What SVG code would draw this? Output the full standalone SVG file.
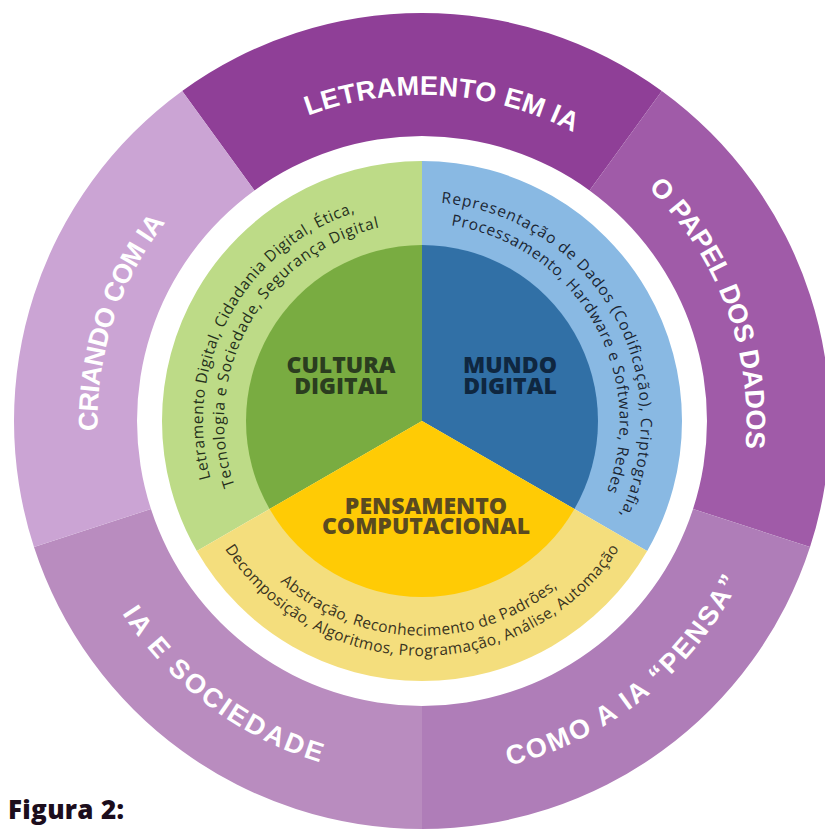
<svg xmlns="http://www.w3.org/2000/svg" width="825" height="831" viewBox="0 0 825 831">
<style>
.outer{font-family:"Liberation Sans",Arial,sans-serif;font-weight:700;font-size:27px;fill:#ffffff}
.small{font-family:"Open Sans","Noto Sans",sans-serif;font-size:15.5px;font-weight:400}
.center{font-family:"Open Sans","Noto Sans",sans-serif;font-weight:800;font-size:23px;text-anchor:middle}
.cap{font-family:"Open Sans","Noto Sans",sans-serif;font-weight:800;font-size:26px;fill:#1c0d1c;letter-spacing:0.3px}
</style>
<defs>
<path id="pLet" d="M96.64,400.53 A326,326 0 0 1 747.36,441.47"/>
<path id="pPap" d="M307.83,115.65 A326,326 0 0 1 536.17,726.35"/>
<path id="pCri" d="M321.26,731.04 A326,326 0 0 1 522.74,110.96"/>
<path id="pCom" d="M143.39,644.21 A357,357 0 0 0 700.61,197.79"/>
<path id="pSoc" d="M136.89,206.15 A357,357 0 0 0 707.11,635.85"/>
<path id="pG1" d="M317.50,613.46 A219,219 0 0 1 526.50,228.54"/>
<path id="pG2" d="M324.92,594.71 A199,199 0 0 1 519.08,247.29"/>
<path id="pB1" d="M313.33,230.86 A219,219 0 0 1 530.67,611.14"/>
<path id="pB2" d="M321.81,250.22 A198,198 0 0 1 522.19,591.78"/>
<path id="pY1" d="M207.04,416.87 A215,215 0 0 0 636.96,425.13"/>
<path id="pY2" d="M187,421 A235,235 0 0 0 657,421"/>
</defs>
<rect width="825" height="831" fill="#ffffff"/>

<g id="letramento-em-ia">
<path d="M182.18,90.92 A408,408 0 0 1 661.82,90.92 L589.52,190.43 A285,285 0 0 0 254.48,190.43 Z" fill="#8f3f97"/>
<text class="outer"><textPath href="#pLet" startOffset="50%" text-anchor="middle" textLength="274" lengthAdjust="spacing">LETRAMENTO EM IA</textPath></text>
</g>
<g id="o-papel-dos-dados">
<path d="M661.82,90.92 A408,408 0 0 1 810.03,547.08 L693.05,509.07 A285,285 0 0 0 589.52,190.43 Z" fill="#a05ba8"/>
<text class="outer"><textPath href="#pPap" startOffset="50%" text-anchor="middle" textLength="287" lengthAdjust="spacing">O PAPEL DOS DADOS</textPath></text>
</g>
<g id="como-a-ia-pensa">
<path d="M810.03,547.08 A408,408 0 0 1 422,829 L422,706 A285,285 0 0 0 693.05,509.07 Z" fill="#af7db8"/>
<text class="outer"><textPath href="#pCom" startOffset="50%" text-anchor="middle" textLength="305" lengthAdjust="spacing">COMO A IA “PENSA”</textPath></text>
</g>
<g id="ia-e-sociedade">
<path d="M422,829 A408,408 0 0 1 33.97,547.08 L150.95,509.07 A285,285 0 0 0 422,706 Z" fill="#b98cbf"/>
<text class="outer"><textPath href="#pSoc" startOffset="50%" text-anchor="middle" textLength="253" lengthAdjust="spacing">IA E SOCIEDADE</textPath></text>
</g>
<g id="criando-com-ia">
<path d="M33.97,547.08 A408,408 0 0 1 182.18,90.92 L254.48,190.43 A285,285 0 0 0 150.95,509.07 Z" fill="#cba4d4"/>
<text class="outer"><textPath href="#pCri" startOffset="50%" text-anchor="middle" textLength="224" lengthAdjust="spacing">CRIANDO COM IA</textPath></text>
</g>

<g id="cultura-digital">
<path d="M422,421 L196.83,551 A260,260 0 0 1 422,161 Z" fill="#bddb87"/>
<path d="M422,421 L269.58,509 A176,176 0 0 1 422,245 Z" fill="#79ac41"/>
<text class="small" fill="#25301c"><textPath href="#pG1" startOffset="50%" text-anchor="middle" textLength="334" lengthAdjust="spacing">Letramento Digital, Cidadania Digital, Ética,</textPath></text>
<text class="small" fill="#25301c"><textPath href="#pG2" startOffset="50%" text-anchor="middle" textLength="334" lengthAdjust="spacing">Tecnologia e Sociedade, Segurança Digital</textPath></text>
<text class="center" fill="#2b3d1f" x="341" y="373">CULTURA</text>
<text class="center" fill="#2b3d1f" x="341" y="394">DIGITAL</text>
</g>
<g id="mundo-digital">
<path d="M422,421 L422,161 A260,260 0 0 1 647.17,551 Z" fill="#89b9e3"/>
<path d="M422,421 L422,245 A176,176 0 0 1 574.42,509 Z" fill="#3170a6"/>
<text class="small" fill="#1b2633"><textPath href="#pB1" startOffset="50%" text-anchor="middle" textLength="422" lengthAdjust="spacing">Representação de Dados (Codificação), Criptografia,</textPath></text>
<text class="small" fill="#1b2633"><textPath href="#pB2" startOffset="50%" text-anchor="middle" textLength="353" lengthAdjust="spacing">Processamento, Hardware e Software, Redes</textPath></text>
<text class="center" fill="#0f2740" x="510" y="373">MUNDO</text>
<text class="center" fill="#0f2740" x="510" y="394">DIGITAL</text>
</g>
<g id="pensamento-computacional">
<path d="M422,421 L647.17,551 A260,260 0 0 1 196.83,551 Z" fill="#f4de7d"/>
<path d="M422,421 L574.42,509 A176,176 0 0 1 269.58,509 Z" fill="#ffcb05"/>
<text class="small" fill="#3a3421"><textPath href="#pY1" startOffset="50%" text-anchor="middle" textLength="302" lengthAdjust="spacing">Abstração, Reconhecimento de Padrões,</textPath></text>
<text class="small" fill="#3a3421"><textPath href="#pY2" startOffset="50%" text-anchor="middle" textLength="468" lengthAdjust="spacing">Decomposição, Algoritmos, Programação, Análise, Automação</textPath></text>
<text class="center" fill="#5a4a20" x="426" y="514">PENSAMENTO</text>
<text class="center" fill="#5a4a20" x="426" y="534">COMPUTACIONAL</text>
</g>

<g id="connectors"></g>

<g id="caption">
<text class="cap" x="8" y="819">Figura 2:</text>
</g>
</svg>
